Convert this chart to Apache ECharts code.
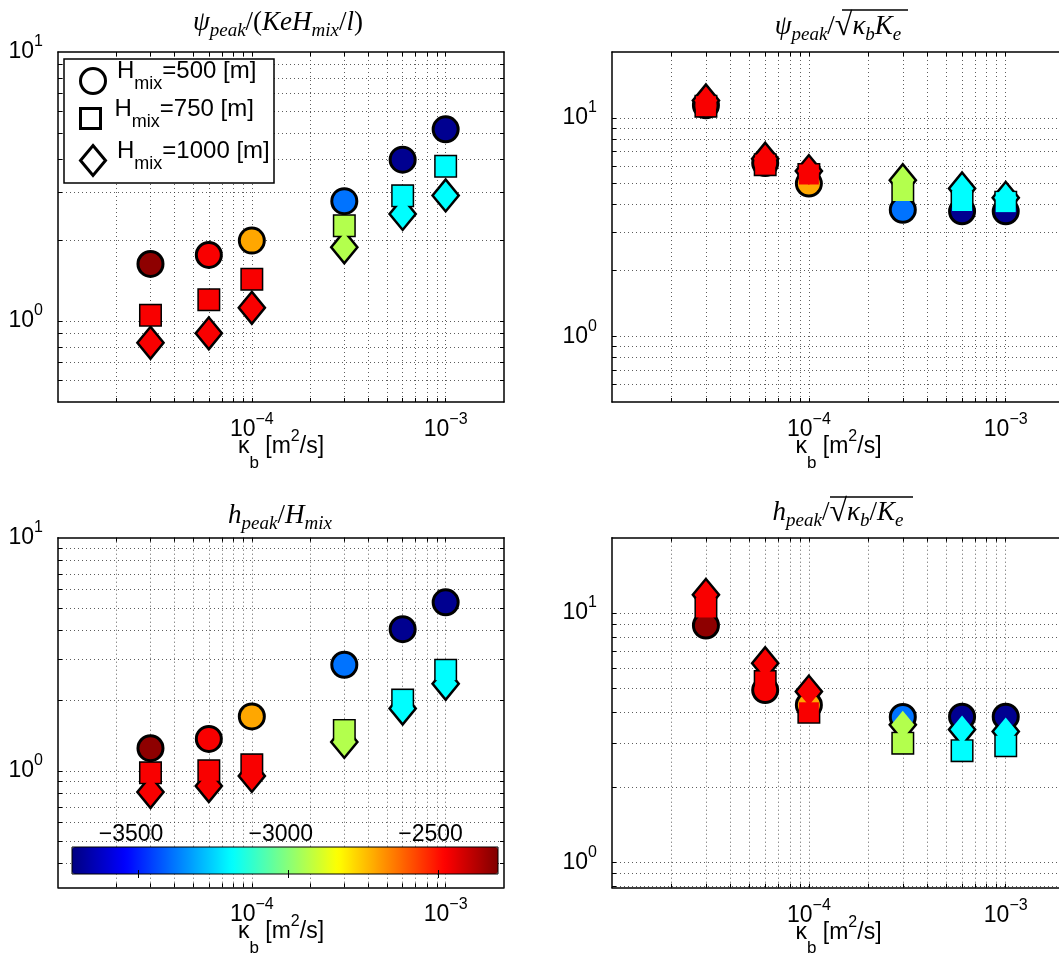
<!DOCTYPE html>
<html><head><meta charset="utf-8">
<script src="https://cdn.jsdelivr.net/npm/echarts@6.0.0/dist/echarts.min.js"></script>
<style>html,body{margin:0;padding:0;background:#fff}#c{width:1059px;height:953px}</style>
</head><body><div id="c"></div><script>
// ---------------- data ----------------
const kappa = [3e-5, 6e-5, 1e-4, 3e-4, 6e-4, 1e-3];
const hmixValues = [500, 750, 1000];
// colour value (colour-bar quantity) of each marker, per kappa
const colourCircle  = [-2320, -2470, -2710, -3385, -3700, -3700];
const colourSquare  = [-2470, -2470, -2470, -2940, -3190, -3190];
const colourDiamond = [-2470, -2470, -2470, -2940, -3190, -3190];
// panel 1: psi_peak/(Ke Hmix / l)
const psiMixCircle  = [1.63, 1.76, 1.99, 2.79, 3.98, 5.16];
const psiMixSquare  = [1.05, 1.20, 1.43, 2.26, 2.92, 3.76];
const psiMixDiamond = [0.83, 0.90, 1.12, 1.88, 2.50, 2.93];
// panel 2: psi_peak/sqrt(kb Ke)
const psiSqrtCircle  = [11.4, 6.2, 5.0, 3.79, 3.73, 3.73];
const psiSqrtSquare  = [11.3, 6.1, 5.5, 4.62, 4.16, 4.11];
const psiSqrtDiamond = [12.0, 6.5, 5.7, 5.18, 4.75, 4.30];
// panel 3: h_peak/Hmix
const hMixCircle  = [1.25, 1.37, 1.71, 2.85, 4.05, 5.28];
const hMixSquare  = [0.98, 1.00, 1.06, 1.49, 2.01, 2.70];
const hMixDiamond = [0.81, 0.86, 0.95, 1.33, 1.85, 2.36];
// panel 4: h_peak/sqrt(kb/Ke)
const hSqrtCircle  = [8.89, 4.9, 4.27, 3.82, 3.83, 3.83];
const hSqrtSquare  = [10.5, 5.3, 3.99, 3.0, 2.80, 2.93];
const hSqrtDiamond = [11.8, 6.28, 4.83, 3.56, 3.40, 3.34];
// ticks
const xTickLabels = [1e-4, 1e-3];
const yTickLabels = [1, 10];
const colourTicks = [-3500, -3000, -2500];
const colourRange = [-3722, -2300];
const jet = ['#000080','#0000ff','#0080ff','#00ffff','#80ff80','#ffff00','#ff8000','#ff0000','#800000'];

// ---------------- layout / style ----------------
const FF = 'Liberation Sans, Arial, sans-serif';
const SF = 'Liberation Serif, Times New Roman, serif';
const panels = [
  {title:'{i|ψ}{s|peak}{r|/(}{i|KeH}{s|mix}{r|/}{i|l}{r|)}', ymin:0.5, ymax:10,
   series:[psiMixCircle, psiMixSquare, psiMixDiamond],
   grid:{left:58, top:52, width:446, height:350}, tx:278, ty:9},
  {title:'{i|ψ}{s|peak}{r|/}{q|√}{i|κ}{s|b}{i|K}{s|e}', ymin:0.5, ymax:20,
   series:[psiSqrtCircle, psiSqrtSquare, psiSqrtDiamond],
   grid:{left:612, top:52, width:453, height:350}, tx:838, ty:11},
  {title:'{i|h}{s|peak}{r|/}{i|H}{s|mix}', ymin:Math.pow(10,-0.5), ymax:10,
   series:[hMixCircle, hMixSquare, hMixDiamond],
   grid:{left:58, top:537.7, width:446, height:349.6}, tx:280, ty:502},
  {title:'{i|h}{s|peak}{r|/}{q|√}{i|κ}{s|b}{r|/}{i|K}{s|e}', ymin:0.79, ymax:20,
   series:[hSqrtCircle, hSqrtSquare, hSqrtDiamond],
   grid:{left:612, top:537.7, width:453, height:350}, tx:838, ty:497}
];
const shapes = [
  {sym:'circle',  size:22,      lw:6, colour:colourCircle},
  {sym:'rect',    size:20,      lw:3, colour:colourSquare},
  {sym:'diamond', size:[23,28], lw:5, colour:colourDiamond}
];
const legendNames = hmixValues.map(h => 'Hmix=' + h + ' [m]');

function logGridValues(min, max) {
  const out = [];
  for (let e = -7; e <= 3; e++) for (let m = 1; m <= 9; m++) {
    const v = +(m * Math.pow(10, e)).toPrecision(6);
    if (v > min * 1.001 && v < max * 0.999) out.push(v);
  }
  return out;
}
function powLabel(v) {
  const e = Math.round(Math.log10(v));
  return '{b|10}{e|' + (e < 0 ? '\u2212' + (-e) : e) + '}';
}
const labelRich = {
  b:{fontSize:23, lineHeight:23, fontFamily:FF, color:'#000', verticalAlign:'middle'},
  e:{fontSize:16, lineHeight:16, padding:[0,0,20,0], fontFamily:FF, color:'#000', verticalAlign:'middle'}
};
const nameRich = {
  t:{fontSize:23, lineHeight:23, fontFamily:FF, color:'#000', verticalAlign:'middle'},
  s:{fontSize:17, lineHeight:17, padding:[33,0,0,0], fontFamily:FF, color:'#000', verticalAlign:'middle'},
  p:{fontSize:16, lineHeight:16, padding:[0,0,20,0], fontFamily:FF, color:'#000', verticalAlign:'middle'}
};
const tBase = {fontFamily:SF, fontWeight:'normal', color:'#000', verticalAlign:'middle'};
const titleRich = {
  i:Object.assign({fontSize:27, lineHeight:27, fontStyle:'italic'}, tBase),
  s:Object.assign({fontSize:19, lineHeight:19, padding:[16,0,0,0], fontStyle:'italic'}, tBase),
  r:Object.assign({fontSize:27, lineHeight:27, fontStyle:'normal'}, tBase),
  q:Object.assign({fontSize:32, lineHeight:32, fontStyle:'normal'}, tBase)
};
const gridLine = {show:true, lineStyle:{color:'#333', width:0.8, type:[1,3]}};
const xName = '{t|κ}{s|b}{t| [m}{p|2}{t|/s]}';

const grid = [], xAxis = [], yAxis = [], series = [], title = [], fillIdx = [];
const xmin = 1e-5, xmax = 2e-3;
const xMinor = logGridValues(xmin, xmax);

panels.forEach((p, k) => {
  grid.push(Object.assign({show:false, containLabel:false, outerBoundsMode:'none'}, p.grid));
  const yMinor = logGridValues(p.ymin, p.ymax);
  const axLine = {show:true, onZero:false, lineStyle:{color:'#000', width:1.5}};
  const tick = vals => ({show:true, inside:true, length:4, customValues:vals, lineStyle:{color:'#000', width:1}});
  xAxis.push({type:'log', logBase:10, gridIndex:k, position:'bottom', min:xmin, max:xmax,
    axisLine:axLine, axisTick:tick(xMinor), splitLine:gridLine,
    axisLabel:{show:true, customValues:xTickLabels, formatter:powLabel, margin:16, rich:labelRich},
    name:xName, nameLocation:'middle', nameGap:33, nameMoveOverlap:false, nameTextStyle:{rich:nameRich}});
  xAxis.push({type:'log', logBase:10, gridIndex:k, position:'top', min:xmin, max:xmax,
    axisLine:axLine, axisTick:tick(xMinor), splitLine:{show:false}, axisLabel:{show:false}});
  yAxis.push({type:'log', logBase:10, gridIndex:k, position:'left', min:p.ymin, max:p.ymax,
    axisLine:axLine, axisTick:tick(yMinor), splitLine:gridLine,
    axisLabel:{show:true, customValues:yTickLabels, formatter:powLabel, margin:15, rich:labelRich}});
  yAxis.push({type:'log', logBase:10, gridIndex:k, position:'right', min:p.ymin, max:p.ymax,
    axisLine:axLine, axisTick:tick(yMinor), splitLine:{show:false}, axisLabel:{show:false}});
  const xi = 2 * k, yi = 2 * k;
  // outline layer (silhouettes)
  shapes.forEach((s, j) => {
    series.push({type:'scatter', name:'edge' + k + j, xAxisIndex:xi, yAxisIndex:yi,
      symbol:s.sym, symbolSize:s.size, silent:true, z:2,
      itemStyle:{color:'#000', borderColor:'#000', borderWidth:s.lw, borderJoin:'miter', opacity:1},
      data:kappa.map((x, i) => [x, p.series[j][i], s.colour[i]])});
  });
  // fill layer
  shapes.forEach((s, j) => {
    fillIdx.push(series.length);
    series.push({type:'scatter', name:legendNames[j], xAxisIndex:xi, yAxisIndex:yi,
      symbol:s.sym, symbolSize:s.size, silent:true, z:3,
      itemStyle:{borderWidth:0, opacity:1},
      data:kappa.map((x, i) => [x, p.series[j][i], s.colour[i]])});
  });
  title.push({text:p.title, left:p.tx, top:p.ty, textAlign:'center', padding:0,
    textStyle:{fontWeight:'normal', rich:titleRich}});
});

// colour bar frame / axis
grid.push({left:72, top:847, width:426, height:27, show:true, borderColor:'#000', borderWidth:1,
  backgroundColor:'transparent', z:10, containLabel:false, outerBoundsMode:'none'});
const cbTick = {show:true, inside:true, length:4, customValues:colourTicks, lineStyle:{color:'#000', width:1}};
xAxis.push({type:'value', gridIndex:4, position:'top', min:colourRange[0], max:colourRange[1], z:10,
  axisLine:{show:false}, splitLine:{show:false}, axisTick:cbTick,
  axisLabel:{show:true, customValues:colourTicks, margin:1, padding:[0,15,0,0],
    formatter:v => String(v).replace('-', '\u2212'), fontSize:23, fontFamily:FF, color:'#000'}});
xAxis.push({type:'value', gridIndex:4, position:'bottom', min:colourRange[0], max:colourRange[1], z:10,
  axisLine:{show:false}, splitLine:{show:false}, axisTick:cbTick, axisLabel:{show:false}});
yAxis.push({type:'value', gridIndex:4, show:false, min:0, max:1});

// legend (three single-item legends inside a framed box)
const legendRich = {
  h:{fontSize:24, lineHeight:24, padding:[0,0,19,0], fontFamily:FF, color:'#000', verticalAlign:'middle'},
  m:{fontSize:18, lineHeight:18, padding:[7,0,0,0], fontFamily:FF, color:'#000', verticalAlign:'middle'}
};
const legendIcons = [
  {icon:'circle', h:25, top:59.5},
  {icon:'path://M0,0L10,0L10,10L0,10Z', h:20, top:97},
  {icon:'path://M5,0L10,6L5,12L0,6Z', h:30, top:139}
];
const legend = legendIcons.map((it, j) => ({
  show:true, left:79, top:it.top, orient:'vertical', itemWidth:38, itemHeight:it.h, padding:0, itemGap:0,
  selectedMode:false, z:60, symbolKeepAspect:true,
  data:[{name:legendNames[j], icon:it.icon, itemStyle:{color:'#fff', borderColor:'#000', borderWidth:3}}],
  formatter:name => '{h|H}{m|mix}{h|=' + hmixValues[legendNames.indexOf(name)] + ' [m]}',
  textStyle:{rich:legendRich}
}));

const option = {
  animation:false,
  backgroundColor:'#fff',
  title, grid, xAxis, yAxis, series, legend,
  visualMap:{type:'continuous', min:colourRange[0], max:colourRange[1], dimension:2, seriesIndex:fillIdx,
    inRange:{color:jet}, orient:'horizontal', left:72, top:847, itemWidth:27, itemHeight:426,
    calculable:false, showLabel:false, text:null, padding:0, hoverLink:false, z:5},
  graphic:[
    {type:'rect', shape:{x:64, y:59, width:210, height:124}, style:{fill:'#fff', stroke:'#000', lineWidth:1.5}, z:50, silent:true},
    {type:'line', shape:{x1:842, y1:10, x2:908, y2:10}, style:{stroke:'#000', lineWidth:1.3}, z:50, silent:true},
    {type:'line', shape:{x1:830, y1:497, x2:913, y2:497}, style:{stroke:'#000', lineWidth:1.3}, z:50, silent:true}
  ]
};
const chart = echarts.init(document.getElementById('c'), null, {renderer:'canvas'});
chart.setOption(option);
</script></body></html>
